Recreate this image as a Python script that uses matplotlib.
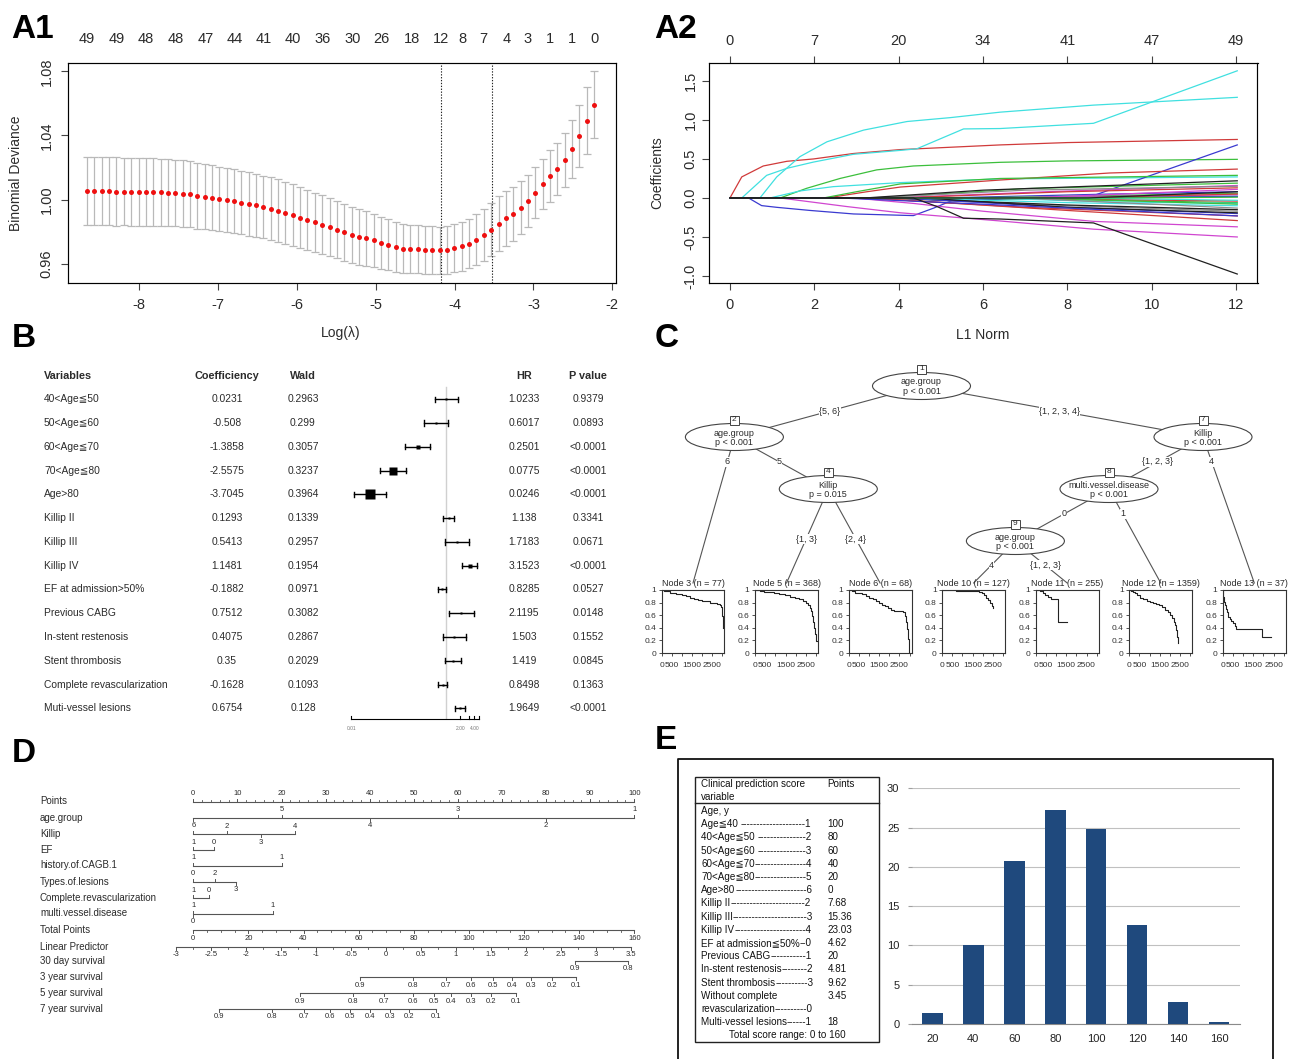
import numpy as np
import matplotlib
matplotlib.use("Agg")
import matplotlib.pyplot as plt
from matplotlib.patches import Ellipse, Rectangle

ARIAL = ['Liberation Sans', 'DejaVu Sans']
plt.rcParams['font.family'] = ARIAL
plt.rcParams['axes.unicode_minus'] = False
plt.rcParams['axes.linewidth'] = 0.8

TXT = '#2b2b2b'
W, H = 1289, 1059

# ---------------- A1: cross-validated binomial deviance ----------------
lam_first, lam_last = -8.657, -2.232
cv_mean = [1.0052, 1.0053, 1.0052, 1.0051, 1.0050, 1.0050, 1.0049, 1.0048, 1.0047, 1.0046,
           1.0044, 1.0042, 1.0040, 1.0037, 1.0033, 1.0024,
           1.0017, 1.0011, 1.0003, 0.9996, 0.9990, 0.9981, 0.9973, 0.9963, 0.9953, 0.9943,
           0.9931, 0.9914, 0.9903, 0.9887, 0.9871, 0.9858, 0.9843, 0.9829, 0.9812, 0.9795,
           0.9778, 0.9766, 0.9757, 0.9745, 0.9729, 0.9718, 0.9704, 0.9694, 0.9692, 0.9690,
           0.9687, 0.9685, 0.9683, 0.9687, 0.9695, 0.9708, 0.9725, 0.9750, 0.9780, 0.9812,
           0.9850, 0.9883, 0.9912, 0.9948, 0.9990, 1.0042, 1.0096, 1.0146, 1.0192, 1.0246,
           1.0315, 1.0397, 1.0493, 1.0593]
cv_sd = [0.0214, 0.0214, 0.0213, 0.0213, 0.0213, 0.0212, 0.0212, 0.0211, 0.0211, 0.0210,
         0.0210, 0.0209, 0.0208, 0.0207, 0.0206, 0.0205,
         0.0204, 0.0203, 0.0202, 0.0201, 0.0200, 0.0199, 0.0198, 0.0197, 0.0196, 0.0195,
         0.0194, 0.0193, 0.0191, 0.0189, 0.0187, 0.0185, 0.0183, 0.0181, 0.0179, 0.0177,
         0.0174, 0.0172, 0.0169, 0.0166, 0.0163, 0.0160, 0.0157, 0.0154, 0.0152, 0.0150,
         0.0149, 0.0148, 0.0148, 0.0149, 0.0150, 0.0152, 0.0155, 0.0158, 0.0162, 0.0166,
         0.0169, 0.0170, 0.0168, 0.0165, 0.0163, 0.0160, 0.0158, 0.0160, 0.0163, 0.0170,
         0.0180, 0.0195, 0.0208, 0.0212]
lam_min, lam_1se = -4.17, -3.52
nz_pos = [-8.657, -8.285, -7.907, -7.534, -7.157, -6.784, -6.422, -6.044, -5.672, -5.294,
          -4.922, -4.544, -4.172, -3.903, -3.629, -3.344, -3.070, -2.785, -2.516, -2.232]
nz_lab = ['49', '49', '48', '48', '47', '44', '41', '40', '36', '30',
          '26', '18', '12', '8', '7', '4', '3', '1', '1', '0']

# ---------------- A2: coefficient paths ----------------
K, R, G, B, C, M, GR = '#202020', '#d03a3a', '#3cbf3c', '#3a3ad0', '#40e0e0', '#d046d0', '#8c8c8c'
l1_ticks = [0, 2, 4, 6, 8, 10, 12]
l1_top_lab = ['0', '7', '20', '34', '41', '47', '49']
coef_paths = [
    (R, [0.28, 0.79, 1.35, 1.98, 2.93, 4.04, 6.41, 8.0, 12.03], [0.27, 0.41, 0.47, 0.50, 0.57, 0.62, 0.68, 0.71, 0.75]),
    (C, [0.28, 0.87, 1.35, 1.98, 2.93, 4.04, 4.43, 5.54, 6.41, 8.62, 12.03], [0, 0.29, 0.38, 0.46, 0.56, 0.61, 0.63, 0.885, 0.89, 0.957, 1.63]),
    (C, [0.71, 1.11, 1.66, 2.30, 3.17, 4.20, 5.23, 6.41, 8.62, 12.03], [0, 0.27, 0.53, 0.72, 0.87, 0.98, 1.03, 1.10, 1.19, 1.29]),
    (G, [1.19, 1.82, 2.61, 3.48, 4.35, 6.41, 8.0, 12.03], [0, 0.124, 0.25, 0.36, 0.41, 0.457, 0.475, 0.495]),
    (C, [0.95, 1.66, 2.45, 4.04, 6.41, 12.03], [0, 0.09, 0.145, 0.197, 0.244, 0.27]),
    (B, [0.44, 0.75, 1.11, 1.90, 2.93, 4.35, 4.83, 5.30, 6.41, 8.55, 12.03], [0, -0.098, -0.12, -0.16, -0.205, -0.226, -0.13, -0.026, -0.017, 0.017, 0.68]),
    (M, [1.19, 2.77, 4.04, 6.41, 8.62, 12.03], [0, -0.11, -0.19, -0.295, -0.40, -0.50]),
    (M, [2.93, 4.35, 6.0, 8.62, 12.03], [0, -0.07, -0.17, -0.30, -0.37]),
    (R, [2.30, 3.25, 4.04, 6.41, 9.0, 12.03], [0, 0.08, 0.14, 0.23, 0.32, 0.37]),
    (G, [2.22, 3.0, 4.04, 6.41, 12.03], [0, 0.08, 0.18, 0.25, 0.29]),
    (G, [3.5, 7.0, 12.03], [0, 0.12, 0.19]),
    (M, [3.8, 7.5, 12.03], [0, 0.08, 0.16]),
    (R, [4.0, 8.0, 12.03], [0, 0.08, 0.13]),
    (GR, [3.3, 7.0, 12.03], [0, 0.10, 0.15]),
    (B, [5.0, 9.0, 12.03], [0, 0.05, 0.08]),
    (G, [5.5, 9.0, 12.03], [0, 0.03, 0.06]),
    (M, [6.0, 12.03], [0, 0.04]),
    (C, [6.5, 12.03], [0, 0.02]),
    (R, [3.2, 7.0, 12.03], [0, -0.12, -0.23]),
    (GR, [3.6, 8.0, 12.03], [0, -0.10, -0.17]),
    (K, [3.8, 8.0, 12.03], [0, -0.09, -0.15]),
    (B, [4.0, 8.0, 12.03], [0, -0.12, -0.20]),
    (C, [4.2, 8.0, 12.03], [0, -0.06, -0.10]),
    (G, [5.0, 9.0, 12.03], [0, -0.03, -0.06]),
    (R, [5.5, 12.03], [0, -0.04]),
    (C, [6.0, 9.0, 12.03], [0, -0.05, -0.07]),
    (K, [4.6, 8.0, 12.03], [0, -0.12, -0.19]),
    (M, [7.0, 12.03], [0, 0.11]),
    (G, [7.2, 12.03], [0, -0.08]),
    (GR, [6.8, 12.03], [0, -0.13]),
    (B, [7.5, 12.03], [0, 0.02]),
    (R, [8.0, 12.03], [0, 0.05]),
    (C, [8.2, 12.03], [0, -0.03]),
    (R, [3.3, 8.0, 12.03], [0, -0.16, -0.29]),
    (G, [9.0, 12.03], [0, 0.01]),
    (B, [2.6, 6.0, 12.03], [0, -0.08, -0.23]),
    (K, [8.5, 12.03], [0, 0.08]),
    (K, [4.35, 4.91, 5.54, 6.41, 8.62, 12.03], [0, -0.11, -0.26, -0.27, -0.32, -0.975]),
    (K, [3.2, 6.0, 12.03], [0, 0.10, 0.22]),
]

# ---------------- B: Cox regression table ----------------
b_vars = ['40<Age≦50', '50<Age≦60', '60<Age≦70', '70<Age≦80', 'Age>80', 'Killip II', 'Killip III',
          'Killip IV', 'EF at admission>50%', 'Previous CABG', 'In-stent restenosis',
          'Stent thrombosis', 'Complete revascularization', 'Muti-vessel lesions']
b_coef = ['0.0231', '-0.508', '-1.3858', '-2.5575', '-3.7045', '0.1293', '0.5413', '1.1481',
          '-0.1882', '0.7512', '0.4075', '0.35', '-0.1628', '0.6754']
b_wald = ['0.2963', '0.299', '0.3057', '0.3237', '0.3964', '0.1339', '0.2957', '0.1954',
          '0.0971', '0.3082', '0.2867', '0.2029', '0.1093', '0.128']
b_hr = ['1.0233', '0.6017', '0.2501', '0.0775', '0.0246', '1.138', '1.7183', '3.1523',
        '0.8285', '2.1195', '1.503', '1.419', '0.8498', '1.9649']
b_p = ['0.9379', '0.0893', '<0.0001', '<0.0001', '<0.0001', '0.3341', '0.0671', '<0.0001',
       '0.0527', '0.0148', '0.1552', '0.0845', '0.1363', '<0.0001']

# ---------------- C: survival tree ----------------
inner_nodes = [1, 2, 7, 4, 8, 9]
inner_var = ['age.group', 'age.group', 'Killip', 'Killip', 'multi.vessel.disease', 'age.group']
inner_p = ['p < 0.001', 'p < 0.001', 'p < 0.001', 'p = 0.015', 'p < 0.001', 'p < 0.001']
edges = [(1, 2, '{5, 6}'), (1, 7, '{1, 2, 3, 4}'), (2, 3, '6'), (2, 4, '5'),
         (7, 8, '{1, 2, 3}'), (7, 13, '4'), (4, 5, '{1, 3}'), (4, 6, '{2, 4}'),
         (8, 9, '0'), (8, 12, '1'), (9, 10, '4'), (9, 11, '{1, 2, 3}')]
km_nodes = [3, 5, 6, 10, 11, 12, 13]
km_n = [77, 368, 68, 127, 255, 1359, 37]
km_time = [
    [0, 120, 250, 400, 520, 700, 850, 1000, 1200, 1400, 1600, 1800, 2000, 2200, 2400, 2600, 2750, 2880, 2930, 2960, 2990, 3020, 3050],
    [0, 100, 250, 450, 700, 950, 1200, 1450, 1700, 1950, 2150, 2350, 2500, 2600, 2700, 2760, 2820, 2860, 2900, 2940, 2980, 3090],
    [0, 150, 300, 450, 650, 850, 1000, 1200, 1350, 1500, 1650, 1800, 1950, 2100, 2250, 2700, 2760, 2820, 2870, 2920, 2950, 2980],
    [0, 300, 700, 1100, 1500, 1800, 1950, 2050, 2150, 2250, 2350, 2430, 2500],
    [0, 200, 350, 450, 600, 750, 1120, 1520],
    [0, 100, 200, 300, 400, 550, 700, 850, 1000, 1150, 1300, 1450, 1600, 1750, 1900, 2000, 2100, 2180, 2250, 2300, 2350, 2390],
    [0, 20, 50, 100, 150, 200, 280, 350, 420, 500, 580, 650, 1950, 2370],
]
km_surv = [
    [1.0, 0.99, 0.98, 0.96, 0.95, 0.94, 0.93, 0.92, 0.90, 0.88, 0.86, 0.84, 0.83, 0.82, 0.80, 0.79, 0.78, 0.76, 0.73, 0.66, 0.58, 0.48, 0.40],
    [1.0, 0.995, 0.99, 0.975, 0.965, 0.95, 0.935, 0.915, 0.895, 0.87, 0.85, 0.82, 0.79, 0.76, 0.71, 0.66, 0.58, 0.50, 0.40, 0.30, 0.19, 0.19],
    [1.0, 0.98, 0.96, 0.95, 0.93, 0.90, 0.88, 0.85, 0.82, 0.79, 0.76, 0.74, 0.71, 0.69, 0.66, 0.65, 0.58, 0.50, 0.38, 0.22, 0.10, 0.0],
    [1.0, 0.995, 0.99, 0.985, 0.98, 0.97, 0.95, 0.92, 0.88, 0.84, 0.79, 0.75, 0.72],
    [1.0, 0.98, 0.95, 0.92, 0.89, 0.85, 0.50, 0.50],
    [1.0, 0.985, 0.97, 0.945, 0.92, 0.88, 0.85, 0.82, 0.805, 0.795, 0.78, 0.76, 0.73, 0.69, 0.65, 0.61, 0.56, 0.50, 0.44, 0.36, 0.26, 0.16],
    [1.0, 0.89, 0.81, 0.76, 0.70, 0.65, 0.57, 0.54, 0.51, 0.47, 0.43, 0.38, 0.25, 0.25],
]

# ---------------- D: nomogram ----------------
nomo_rows = ['Points', 'age.group', 'Killip', 'EF', 'history.of.CAGB.1', 'Types.of.lesions',
             'Complete.revascularization', 'multi.vessel.disease', 'Total Points', 'Linear Predictor',
             '30 day survival', '3 year survival', '5 year survival', '7 year survival']
# (label, points, side)
nomo_vars = {
    'age.group': [('1', 100, 'up'), ('2', 80, 'dn'), ('3', 60, 'up'), ('4', 40, 'dn'), ('5', 20, 'up'), ('6', 0, 'dn')],
    'Killip': [('', 0, 'up'), ('2', 7.68, 'up'), ('3', 15.36, 'dn'), ('4', 23.03, 'up')],
    'EF': [('1', 0, 'up'), ('0', 4.62, 'up')],
    'history.of.CAGB.1': [('1', 0, 'up'), ('1', 20, 'up')],
    'Types.of.lesions': [('0', 0, 'up'), ('2', 4.81, 'up'), ('3', 9.62, 'dn')],
    'Complete.revascularization': [('1', 0, 'up'), ('0', 3.45, 'up')],
    'multi.vessel.disease': [('1', 0, 'up'), ('1', 18, 'up'), ('0', 0, 'dn')],
}
surv_lab = ['0.9', '0.8', '0.7', '0.6', '0.5', '0.4', '0.3', '0.2', '0.1']
surv_30d_tp = [138.4, 157.6]
surv_3y_tp = [60.6, 79.7, 91.7, 100.8, 108.6, 115.7, 122.6, 130.2, 139.0]
surv_5y_tp = [38.8, 57.9, 69.3, 79.6, 87.2, 93.6, 100.8, 108.1, 117.2]
surv_7y_tp = [9.4, 28.5, 40.1, 49.7, 56.9, 64.2, 71.4, 78.1, 88.0]

# ---------------- E: score table + distribution ----------------
score_rows = [('Age, y', ''), ('Age≦40 ', '1', '100'), ('40<Age≦50 ', '2', '80'),
              ('50<Age≦60 ', '3', '60'), ('60<Age≦70', '4', '40'), ('70<Age≦80', '5', '20'),
              ('Age>80', '6', '0'), ('Killip II', '2', '7.68'), ('Killip III', '3', '15.36'),
              ('Killip IV', '4', '23.03'), ('EF at admission≦50%', '0', '4.62'),
              ('Previous CABG', '1', '20'), ('In-stent restenosis', '2', '4.81'),
              ('Stent thrombosis', '3', '9.62'), ('Without complete', '3.45'),
              ('revascularization', '0', ''), ('Multi-vessel lesions', '1', '18')]
score_bins = ['20', '40', '60', '80', '100', '120', '140', '160']
score_pct = [1.4, 10.1, 20.8, 27.3, 24.8, 12.6, 2.85, 0.3]

# =====================================================================
fig = plt.figure(figsize=(W / 100, H / 100), dpi=100)


def add_ax(l, t, r, b):
    return fig.add_axes([l / W, 1 - b / H, (r - l) / W, (b - t) / H])


ov = add_ax(0, 0, W, H)
ov.set_xlim(0, W)
ov.set_ylim(H, 0)
ov.axis('off')

for lab, x, y in [('A1', 11, 38), ('A2', 654, 38), ('B', 12, 347), ('C', 655, 347),
                  ('D', 12, 762), ('E', 655, 749)]:
    ov.text(x, y, lab, fontsize=24, fontweight='bold', va='baseline')


def r_style(ax):
    for s in ax.spines.values():
        s.set_color('#444444')
    ax.tick_params(colors='#444444', labelcolor=TXT, labelsize=10.5, length=5, width=0.8)


# ---- A1 ----
ax1 = add_ax(67.5, 63, 615.5, 283)
lam = np.linspace(lam_first, lam_last, len(cv_mean))
ax1.errorbar(lam, cv_mean, yerr=cv_sd, fmt='none', ecolor='#b9b9b9', elinewidth=0.9,
             capsize=2.9, capthick=0.9)
ax1.plot(lam, cv_mean, 'o', ms=3.6, color='#ee1010', mec='none', zorder=3)
for v in (lam_min, lam_1se):
    ax1.axvline(v, color='#222222', lw=0.8, ls=(0, (1.2, 1.4)))
ax1.set_xlim(-8.905, -1.96)
ax1.set_ylim(0.9479, 1.0852)
ax1.set_xticks(range(-8, -1))
ax1.set_yticks([0.96, 1.00, 1.04, 1.08])
ax1.set_yticklabels(['0.96', '1.00', '1.04', '1.08'], rotation=90, va='center')
r_style(ax1)
ax1.tick_params(axis='x', pad=6)
ax1.tick_params(axis='y', pad=5)
top1 = ax1.twiny()
top1.set_xlim(ax1.get_xlim())
top1.set_xticks(nz_pos)
top1.set_xticklabels(nz_lab)
top1.tick_params(length=0, pad=12, labelsize=10.5, labelcolor=TXT)
ov.text(16, 173, 'Binomial Deviance', rotation=90, ha='center', va='center', fontsize=10,
        color=TXT)
ov.text(341, 333, 'Log(λ)', ha='center', va='center', fontsize=10, color=TXT)

# ---- A2 ----
ax2 = add_ax(709.3, 63, 1257.5, 283)
for color, xs, ys in coef_paths:
    ax2.plot([0] + xs, [0] + ys, color=color, lw=0.9)
ax2.set_xlim(-0.49, 12.51)
ax2.set_ylim(-1.09, 1.73)
ax2.set_xticks(l1_ticks)
ax2.set_yticks([-1.0, -0.5, 0.0, 0.5, 1.0, 1.5])
ax2.set_yticklabels(['-1.0', '-0.5', '0.0', '0.5', '1.0', '1.5'], rotation=90, va='center')
r_style(ax2)
ax2.tick_params(axis='x', pad=6)
top2 = ax2.twiny()
top2.set_xlim(ax2.get_xlim())
top2.set_xticks(l1_ticks)
top2.set_xticklabels(l1_top_lab)
top2.tick_params(length=5, pad=6, labelsize=10.5, labelcolor=TXT, colors='#444444')
ov.text(657, 173, 'Coefficients', rotation=90, ha='center', va='center', fontsize=10,
        color=TXT)
ov.text(983, 335, 'L1 Norm', ha='center', va='center', fontsize=10, color=TXT)

# ---- B: table + forest ----
b_row_y = [399.3 + i * 23.77 for i in range(len(b_vars))]
b_cols = [(44, 'left', 'Variables'), (227, 'center', 'Coefficiency'), (303, 'center', 'Wald'),
          (524, 'center', 'HR'), (588, 'center', 'P value')]
for x, ha, h in b_cols:
    ov.text(x, 376, h, ha=ha, va='center', fontsize=7.8, fontweight='bold', color=TXT)
for y, v, c, w, hr, p in zip(b_row_y, b_vars, b_coef, b_wald, b_hr, b_p):
    for (x, ha, _), s in zip(b_cols, [v, c, w, hr, p]):
        ov.text(x, y, s, ha=ha, va='center', fontsize=7.4, color=TXT)

axf = add_ax(340, 330, 500, 740)
axf.set_xscale('log')
axf.set_xlim(10 ** ((340 - 446) / 47.3), 10 ** ((500 - 446) / 47.3))
axf.set_ylim(740, 330)
axf.axis('off')
axf.plot([1, 1], [387, 718], color='#d0d0d0', lw=1)
for y, c, w, hr in zip(b_row_y, b_coef, b_wald, b_hr):
    c, w, hr = float(c), float(w), float(hr)
    lo, hi = np.exp(c - 1.96 * w), np.exp(c + 1.96 * w)
    axf.plot([lo, hi], [y, y], color='k', lw=1)
    axf.plot([lo, lo], [y - 2.6, y + 2.6], color='k', lw=1)
    axf.plot([hi, hi], [y - 2.6, y + 2.6], color='k', lw=1)
    size_px = max(3.0, 2.6 * abs(c) + 0.9)
    axf.plot(hr, y, 's', color='k', ms=size_px / 1.39, mec='none')
axf.plot([0.01, 5], [719, 719], color='k', lw=0.8)
for t in [0.01, 2, 3, 4, 5]:
    axf.plot([t, t], [719, 715.5], color='k', lw=0.8)
for t, s in [(0.01, '0.01'), (2, '2.00'), (4, '4.00')]:
    axf.text(t, 728, s, ha='center', va='center', fontsize=3.5, color='#777777')

# ---- C: tree ----
inner_xy = {1: (921.5, 386), 2: (734.4, 437), 7: (1203, 437), 4: (828.3, 489),
            8: (1109, 489), 9: (1015.4, 541)}
term_left = {n: 661.5 + k * 93.55 for k, n in enumerate(km_nodes)}
term_top = 583
node_xy = dict(inner_xy)
for n in km_nodes:
    node_xy[n] = (term_left[n] + 31.5, term_top)
lab_y = {(1, 2): 411, (1, 7): 411, (2, 3): 462, (2, 4): 462, (7, 8): 462, (7, 13): 462,
         (4, 5): 539, (4, 6): 539, (8, 9): 514, (8, 12): 514, (9, 10): 565, (9, 11): 565}
for p, ch, lab in edges:
    (px, py), (cx, cy) = node_xy[p], node_xy[ch]
    ov.plot([px, cx], [py, cy], color='#555555', lw=0.8, zorder=1)
    ly = lab_y[(p, ch)]
    lx = px + (ly - py) / (cy - py) * (cx - px)
    ov.text(lx, ly, lab, ha='center', va='center', fontsize=6.5, color=TXT, zorder=3,
            bbox=dict(fc='white', ec='none', pad=0.3))
for n, var, pv in zip(inner_nodes, inner_var, inner_p):
    x, y = inner_xy[n]
    ov.add_patch(Ellipse((x, y), 98, 27, fc='white', ec='#444444', lw=0.8, zorder=2))
    ov.add_patch(Rectangle((x - 4.5, y - 13.5 - 8), 9, 9, fc='white', ec='#444444', lw=0.7, zorder=4))
    ov.text(x, y - 17.5, str(n), ha='center', va='center', fontsize=6, color=TXT, zorder=5)
    ov.text(x, y - 4, var, ha='center', va='center', fontsize=6.5, color=TXT, zorder=3)
    ov.text(x, y + 5.5, pv, ha='center', va='center', fontsize=6.5, color=TXT, zorder=3)

for n, nn, tt, ss in zip(km_nodes, km_n, km_time, km_surv):
    l = term_left[n]
    axk = add_ax(l, 590, l + 63, 653)
    axk.step(tt, ss, where='post', color='#222222', lw=0.8)
    axk.set_xlim(0, 3100)
    axk.set_ylim(0, 1)
    axk.set_xticks([0, 500, 1000, 1500, 2000, 2500, 3000])
    axk.set_xticklabels(['0', '500', '', '1500', '', '2500', ''])
    axk.set_yticks([0, 0.2, 0.4, 0.6, 0.8, 1])
    axk.set_yticklabels(['0', '0.2', '0.4', '0.6', '0.8', '1'])
    axk.tick_params(labelsize=6, length=2.5, width=0.6, pad=1.5, colors='#333333')
    axk.tick_params(axis='x', pad=4)
    for s in axk.spines.values():
        s.set_linewidth(0.8)
        s.set_color('#333333')
    ov.text(l + 31.5, 588.5, f'Node {n} (n = {nn})', ha='center', va='bottom', fontsize=6.5, color=TXT)

# ---- D: nomogram ----
row_y = [801.5, 817.7, 834.3, 850, 865.5, 881.7, 898, 913.5, 930, 947, 961, 977.3, 993.3, 1009]
for name, y in zip(nomo_rows, row_y):
    ov.text(40, y, name, ha='left', va='center', fontsize=7.0, color=TXT)

axn = add_ax(0, 780, 645, 1030)
axn.set_xlim((0 - 193.3) / 4.41, (645 - 193.3) / 4.41)
axn.set_ylim(1030, 780)
axn.axis('off')
LC = '#555555'


def tp_x(tp):
    return np.asarray(tp) * 100 / 160.0


def lp_x(lp):
    return (176 + (np.asarray(lp) + 3) * 69.95 - 193.3) / 4.41


def nomo_axis(y, xs, labels, sides, minor=None, tick=3.0, off=8.0, fs=5.5):
    axn.plot([min(xs), max(xs)], [y, y], color=LC, lw=0.8)
    if minor is not None:
        for m in minor:
            d = -1 if sides[0] == 'up' else 1
            axn.plot([m, m], [y, y + d * tick * 0.6], color=LC, lw=0.6)
    for x, lab, s in zip(xs, labels, sides):
        d = -1 if s == 'up' else 1
        axn.plot([x, x], [y, y + d * tick], color=LC, lw=0.7)
        if lab:
            axn.text(x, y + d * off, lab, ha='center', va='center', fontsize=fs, color=TXT)


pts_major = np.arange(0, 101, 10)
nomo_axis(row_y[0], pts_major, [str(v) for v in pts_major], ['up'] * len(pts_major),
          minor=np.arange(0, 100.1, 2))
for name, y in zip(nomo_rows[1:8], row_y[1:8]):
    items = nomo_vars[name]
    nomo_axis(y, [p for _, p, _ in items], [l for l, _, _ in items], [s for _, _, s in items])
tp_major = np.arange(0, 161, 20)
nomo_axis(row_y[8], tp_x(tp_major), [str(v) for v in tp_major], ['dn'] * len(tp_major),
          minor=tp_x(np.arange(0, 160.1, 5)))
lp_major = np.arange(-3, 3.51, 0.5)
lp_lab = [('%g' % v) for v in lp_major]
nomo_axis(row_y[9], lp_x(lp_major), lp_lab, ['dn'] * len(lp_major),
          minor=lp_x(np.arange(-3, 3.51, 0.25)))
for y, tps in zip(row_y[10:], [surv_30d_tp, surv_3y_tp, surv_5y_tp, surv_7y_tp]):
    nomo_axis(y, tp_x(tps), surv_lab[:len(tps)], ['dn'] * len(tps))

# ---- E: frame, table, bars ----
ov.plot([678, 678, 1272.5, 1272.5], [H + 5, 759, 759, H + 5], color='#111111', lw=1.3)
ov.add_patch(Rectangle((695.3, 777), 184, 265, fc='white', ec='#222222', lw=1.0))
ov.plot([695.3, 879.4], [803.3, 803.3], color='#222222', lw=1.0)
EF = 7.1
ov.text(701, 784, 'Clinical prediction score', fontsize=EF, va='center', color='#111111')
ov.text(701, 797.5, 'variable', fontsize=EF, va='center', color='#111111')
ov.text(827.5, 784, 'Points', fontsize=EF, va='center', color='#111111')
rend = fig.canvas.get_renderer()
dash_t = ov.text(0, -50, '-' * 20, fontsize=EF)
dash_w = dash_t.get_window_extent(rend).width / 20
dash_t.remove()
for i, row in enumerate(score_rows):
    y = 811 + i * 13.2
    t = ov.text(701, y, row[0], fontsize=EF, va='center', color='#111111')
    if len(row) == 3:
        x_end = t.get_window_extent(rend).x1
        dt = ov.text(0, -50, row[1], fontsize=EF)
        dig_w = dt.get_window_extent(rend).width
        dt.remove()
        n_d = max(1, int(round((812 - dig_w - x_end) / dash_w)))
        ov.text(x_end, y, '-' * n_d + row[1], fontsize=EF, va='center', ha='left',
                color='#111111')
    pts = row[-1] if len(row) == 3 else (row[1] if len(row) == 2 else '')
    if pts:
        ov.text(827.5, y, pts, fontsize=EF, va='center', color='#111111')
ov.text(787.5, 1035, 'Total score range: 0 to 160', fontsize=EF, va='center', ha='center',
        color='#111111')

axe = add_ax(911.9, 788.3, 1239.6, 1024)
axe.bar(range(len(score_bins)), score_pct, width=0.5, color='#1f497d', zorder=3)
axe.set_xlim(-0.5, len(score_bins) - 0.5)
axe.set_ylim(0, 30)
axe.set_yticks(range(0, 31, 5))
axe.set_xticks(range(len(score_bins)))
axe.set_xticklabels(score_bins)
axe.yaxis.grid(True, color='#c0c0c0', lw=0.8)
axe.set_axisbelow(True)
for s in ['top', 'right', 'left']:
    axe.spines[s].set_visible(False)
axe.spines['bottom'].set_color('#8a8a8a')
axe.tick_params(axis='y', length=3, color='#a0a0a0', labelsize=8, pad=6, labelcolor='#222222')
axe.tick_params(axis='x', length=0, labelsize=8, pad=7, labelcolor='#222222')

fig.savefig('out.png', dpi=100)
